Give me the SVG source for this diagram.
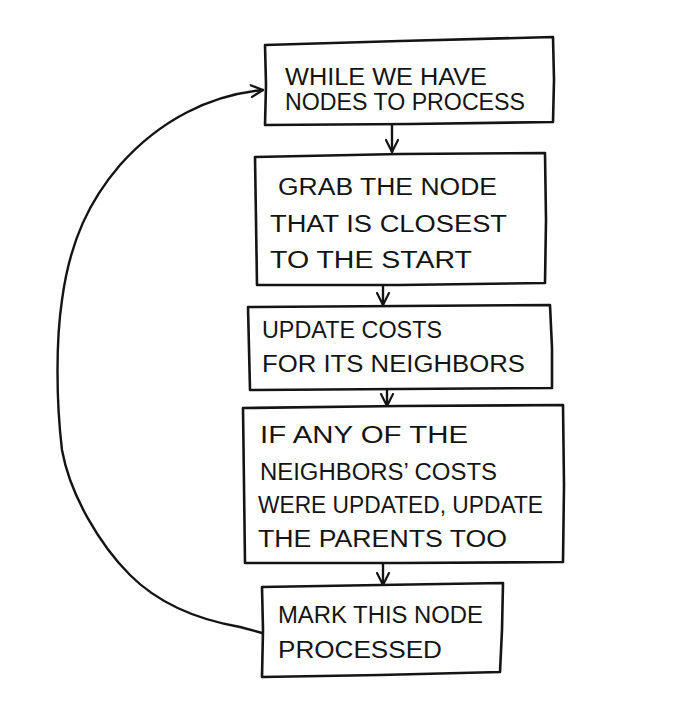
<svg xmlns="http://www.w3.org/2000/svg" width="681" height="708" viewBox="0 0 681 708">
  <style>
    .box { fill: #fff; stroke: #141414; stroke-width: 2.6; stroke-linejoin: round; stroke-linecap: round; }
    .lbl { font-family: "Liberation Sans", "DejaVu Sans", sans-serif; font-size: 23px; fill: #141414; }
    .edge { fill: none; stroke: #141414; stroke-width: 2.4; stroke-linecap: round; }
  </style>
  <defs>
    <marker id="arrow" viewBox="0 0 14 14" refX="13" refY="7" markerWidth="14" markerHeight="14" markerUnits="userSpaceOnUse" orient="auto">
      <path d="M1,1 L13,7 L1,13" fill="none" stroke="#141414" stroke-width="2.2" stroke-linecap="round" stroke-linejoin="round"/>
    </marker>
  </defs>
  <rect x="0" y="0" width="681" height="708" fill="#fff"/>

  <g id="connectors">
    <path class="edge" d="M392,123 L392,152" marker-end="url(#arrow)"/>
    <path class="edge" d="M383,285 L383,305" marker-end="url(#arrow)"/>
    <path class="edge" d="M387,390 L387,406" marker-end="url(#arrow)"/>
    <path class="edge" d="M383,563 L383,585" marker-end="url(#arrow)"/>
    <!-- loop back from the last step to the top -->
    <path class="edge" d="M262,633 L240,627 C200,620 160,605 130,575 C100,545 70,495 62,450 C56,400 56,340 62,300 C70,240 90,200 120,165 C160,120 210,95 263,90" marker-end="url(#arrow)"/>
  </g>

  <g id="node-while">
    <path class="box" d="M265,45 L400,41 L553,37 L554,80 L553,122 L410,124 L265,125 L266,85 Z"/>
    <text class="lbl" x="285" y="85" textLength="202" lengthAdjust="spacingAndGlyphs">WHILE WE HAVE</text>
    <text class="lbl" x="285" y="110" textLength="240" lengthAdjust="spacingAndGlyphs">NODES TO PROCESS</text>
  </g>

  <g id="node-grab">
    <path class="box" d="M255,157 L400,154 L545,153 L546,220 L545,283 L400,285 L257,285 L256,220 Z"/>
    <text class="lbl" x="278" y="195" textLength="219" lengthAdjust="spacingAndGlyphs">GRAB THE NODE</text>
    <text class="lbl" x="270" y="232" textLength="237" lengthAdjust="spacingAndGlyphs">THAT IS CLOSEST</text>
    <text class="lbl" x="270" y="268" textLength="202" lengthAdjust="spacingAndGlyphs">TO THE START</text>
  </g>

  <g id="node-update">
    <path class="box" d="M248,307 L400,306 L550,305 L552,348 L552,388 L400,389 L250,390 L249,348 Z"/>
    <text class="lbl" x="262" y="338" textLength="180" lengthAdjust="spacingAndGlyphs">UPDATE COSTS</text>
    <text class="lbl" x="262" y="372" textLength="263" lengthAdjust="spacingAndGlyphs">FOR ITS NEIGHBORS</text>
  </g>

  <g id="node-parents">
    <path class="box" d="M243,408 L400,406 L563,405 L564,485 L563,562 L400,563 L245,563 L244,485 Z"/>
    <text class="lbl" x="260" y="443" textLength="208" lengthAdjust="spacingAndGlyphs">IF ANY OF THE</text>
    <text class="lbl" x="260" y="480" textLength="237" lengthAdjust="spacingAndGlyphs">NEIGHBORS’ COSTS</text>
    <text class="lbl" x="258" y="513" textLength="285" lengthAdjust="spacingAndGlyphs">WERE UPDATED, UPDATE</text>
    <text class="lbl" x="258" y="547" textLength="249" lengthAdjust="spacingAndGlyphs">THE PARENTS TOO</text>
  </g>

  <g id="node-mark">
    <path class="box" d="M262,587 L380,585 L503,583 L502,630 L500,672 L380,675 L262,677 L263,630 Z"/>
    <text class="lbl" x="278" y="623" textLength="205" lengthAdjust="spacingAndGlyphs">MARK THIS NODE</text>
    <text class="lbl" x="278" y="658" textLength="164" lengthAdjust="spacingAndGlyphs">PROCESSED</text>
  </g>
</svg>
